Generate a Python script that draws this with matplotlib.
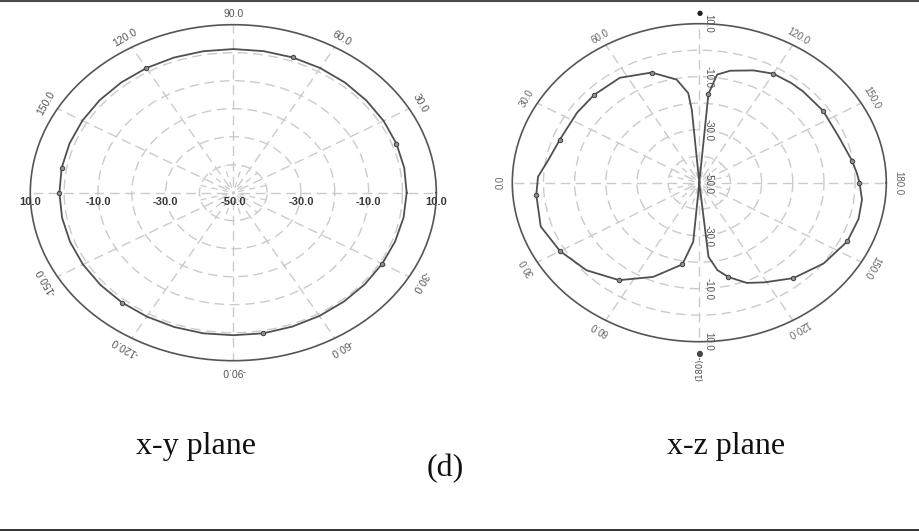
import numpy as np
import matplotlib
matplotlib.use("Agg")
import matplotlib.pyplot as plt
from matplotlib.lines import Line2D

# ---------------- data ----------------
# x-y plane pattern (angle in degrees, gain in dB)
xy_theta = [0, 10, 20, 30, 40, 50, 60, 70, 80, 90, 100, 110, 120, 130, 140, 150, 160, 170,
            180, 190, 200, 210, 220, 230, 240, 250, 260, 270, 280, 290, 300, 310, 320, 330,
            340, 350, 360]
xy_gain = [1.25, 1.3, 1.3, 1.3, 1.3, 1.35, 1.4, 1.4, 1.35, 1.3, 1.3, 1.35, 1.4, 1.45, 1.5, 1.5,
           1.5, 1.5, 1.4, 1.4, 1.35, 1.3, 1.25, 1.2, 1.1, 1.05, 1.0, 0.9, 1.0, 0.9, 0.85, 0.8,
           0.8, 0.8, 0.9, 1.1, 1.25]
xy_marker_theta = [20, 70, 120, 170, 180, 230, 280, 330]

# x-z plane pattern (angle in degrees, gain in dB)
xz_theta = [-90, -84, -80, -75.3, -68, -61, -50, -37.4, -25, -15, -7, 0, 4, 9.6, 21, 34.4,
            46, 52, 60, 67.7, 76.8, 82, 85, 90, 95, 96, 100.6, 110.2, 122.8, 135.5, 146,
            160, 170, 177.5, 185, 198, 210, 222.4, 235, 247.4, 260, 265, 270]
xz_gain = [-50, -21.9, -16.5, -13.2, -9.2, -7.0, -3.0, 0.2, 2.4, 2.9, 2.6, 1.4, 0.7, -0.3,
           -2.0, -1.9, -2.1, -2.2, -2.5, -4.2, -6.6, -8.8, -16.3, -50, -22.4, -16.0, -10.4,
           -5.7, -2.9, -2.7, -2.7, -2.4, -0.8, 1.8, 2.5, 3.5, 1.6, -1.0, -5.1, -11.5, -18.7,
           -27.6, -50]
xz_marker_theta = [-75.3, -50, -25, 0, 9.6, 34.4, 60, 85, 110.2, 135.5, 160, 185, 210, 235, 260]

r_min, r_max = -50, 10
grid_rings = [-40, -30, -20, -10, 0]

xy_angle_ticks = [30, 60, 90, 120, 150, -150, -120, -90, -60, -30]
xy_angle_labels = ["30.0", "60.0", "90.0", "120.0", "150.0", "-150.0", "-120.0", "-90.0",
                   "-60.0", "-30.0"]
xy_radial_ticks = [-30, -10, 10]
xy_radial_labels = ["-30.0", "-10.0", "10.0"]

xz_angle_ticks = [180, 150, 120, 60, 30, 0, -30, -60, -120, -150]
xz_angle_labels = ["0.0", "30.0", "60.0", "120.0", "150.0", "180.0", "150.0", "120.0",
                   "60.0", "30.0"]
xz_radial_ticks = [-30, -10, 10]
xz_radial_labels = ["-30.0", "-10.0", "10.0"]

captions = ["x-y plane", "(d)", "x-z plane"]

# ---------------- figure ----------------
fig = plt.figure(figsize=(9.19, 5.31), dpi=100)
fig.patch.set_facecolor("white")

GRID_C = "#cbcbcb"
DASH = (0, (7, 4))
SPOKE_DASH = (6, (7, 4))


def setup(ax):
    ax.set_aspect("auto")
    ax.set_ylim(r_min, r_max)
    ax.set_xticks(np.deg2rad(np.arange(0, 360, 30)))
    ax.set_xticklabels([])
    ax.set_yticks(grid_rings)
    ax.set_yticklabels([])
    ax.tick_params(axis="both", length=0)
    ax.yaxis.grid(True, color=GRID_C, linestyle=DASH, linewidth=1.0)
    ax.xaxis.grid(True, color=GRID_C, linestyle=SPOKE_DASH, linewidth=1.0)
    ax.spines["polar"].set_color("#555555")
    ax.spines["polar"].set_linewidth(1.2)
    for t in np.arange(15, 360, 30):
        ax.plot([np.deg2rad(t)] * 2, [r_min, -40], color=GRID_C, linestyle=(5, (5, 4)),
                linewidth=0.9, zorder=1)


def pattern(ax, th, g, mth):
    th = np.asarray(th, float)
    g = np.asarray(g, float)
    ax.plot(np.deg2rad(th), g, color="#505050", linewidth=1.3, zorder=3)
    m = np.isin(th, mth)
    ax.plot(np.deg2rad(th[m]), g[m], linestyle="none", marker="o", markersize=3.2,
            markerfacecolor="#909090", markeredgecolor="#404040", markeredgewidth=0.7,
            zorder=4)


# left: x-y plane
ax1 = fig.add_axes([30.3 / 919, 1 - 360.7 / 531, 406 / 919, 336 / 531], projection="polar")
setup(ax1)
pattern(ax1, xy_theta, xy_gain, xy_marker_theta)
for t, lab in zip(xy_angle_ticks, xy_angle_labels):
    ax1.text(np.deg2rad(t), 13.8, lab, rotation=t - 90, rotation_mode="anchor",
             ha="center", va="center", fontsize=7.5, color="#555555",
             family="Liberation Sans", clip_on=False)
for side in (0, 180):
    for rv, lab in zip(xy_radial_ticks, xy_radial_labels):
        ax1.annotate(lab, (np.deg2rad(side), rv), xytext=(0, -9),
                     textcoords="offset pixels", ha="center", va="center",
                     fontsize=8, fontweight="bold", color="#3a3a3a",
                     family="Liberation Sans", annotation_clip=False)
ax1.annotate("-50.0", (0, r_min), xytext=(0, -9), textcoords="offset pixels",
             ha="center", va="center", fontsize=8, fontweight="bold", color="#3a3a3a",
             family="Liberation Sans", annotation_clip=False)

# right: x-z plane
ax2 = fig.add_axes([512.3 / 919, 1 - 341.7 / 531, 374 / 919, 318 / 531], projection="polar")
setup(ax2)
pattern(ax2, xz_theta, xz_gain, xz_marker_theta)
for t, lab in zip(xz_angle_ticks, xz_angle_labels):
    ax2.text(np.deg2rad(t), 13.8, lab, rotation=t - 90, rotation_mode="anchor",
             ha="center", va="center", fontsize=7, color="#666666",
             family="Liberation Sans", clip_on=False)
for side in (90, -90):
    for rv, lab in zip(xz_radial_ticks, xz_radial_labels):
        ax2.annotate(lab, (np.deg2rad(side), rv), xytext=(9, 0),
                     textcoords="offset pixels", ha="center", va="center", rotation=-90,
                     fontsize=7, color="#555555", family="Liberation Sans",
                     annotation_clip=False)
ax2.annotate("-50.0", (0, r_min), xytext=(9, 0), textcoords="offset pixels",
             ha="center", va="center", rotation=-90, fontsize=7, color="#555555",
             family="Liberation Sans", annotation_clip=False)
ax2.text(np.deg2rad(90), 13.9, "●", ha="center", va="center", fontsize=5,
         color="#222222", family="DejaVu Sans", clip_on=False)
ax2.text(np.deg2rad(-90), 18.7, "(180)-●", ha="center", va="center", rotation=90,
         fontsize=6, color="#444444", family="DejaVu Sans", clip_on=False)

# captions
fig.text(196 / 919, 1 - 446.5 / 531, captions[0], ha="center", va="center",
         fontsize=23, family="Liberation Serif", color="#111111")
fig.text(445 / 919, 1 - 468.5 / 531, captions[1], ha="center", va="center",
         fontsize=23, family="Liberation Serif", color="#111111")
fig.text(726 / 919, 1 - 446.5 / 531, captions[2], ha="center", va="center",
         fontsize=23, family="Liberation Serif", color="#111111")

# frame lines at top and bottom
fig.add_artist(Line2D([0, 1], [1 - 1 / 531, 1 - 1 / 531], transform=fig.transFigure,
                      color="#4a4a4a", linewidth=1.5))
fig.add_artist(Line2D([0, 1], [1 - 529.8 / 531, 1 - 529.8 / 531], transform=fig.transFigure,
                      color="#222222", linewidth=1.3))

fig.savefig("out.png", dpi=100, facecolor="white")
